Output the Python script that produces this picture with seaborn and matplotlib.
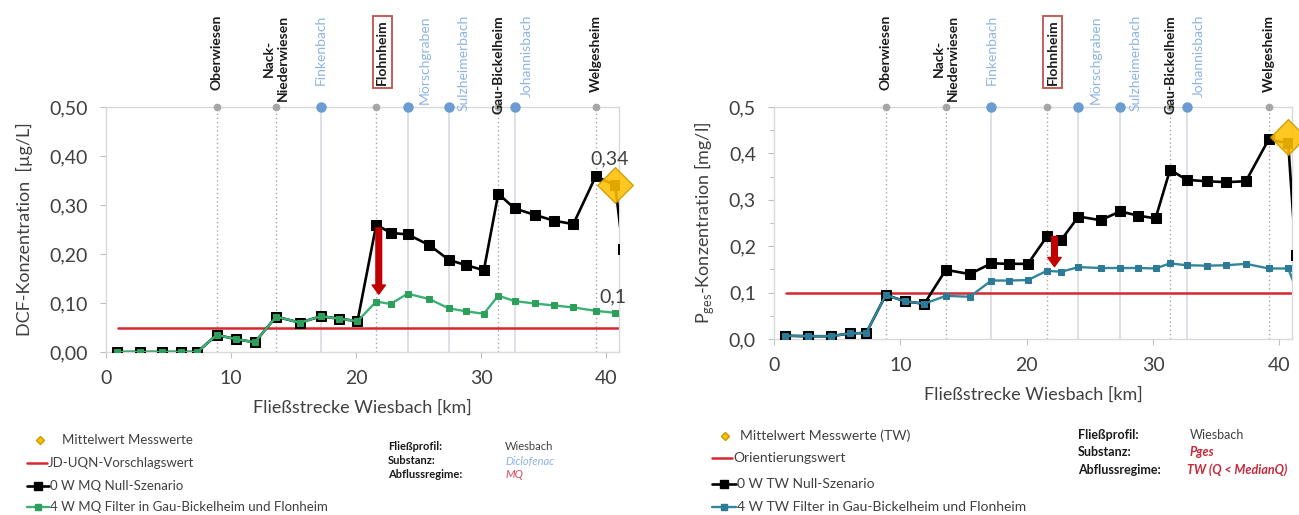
import seaborn as sns
import matplotlib.pyplot as plt
from matplotlib.lines import Line2D
from matplotlib import transforms

# River kilometre of each model node along the Wiesbach
km = [0.9, 2.7, 4.5, 6.0, 7.3, 8.85, 10.4, 11.9, 13.6, 15.5, 17.2, 18.6, 20.1,
      21.6, 22.75, 24.1, 25.85, 27.4, 28.8, 30.2, 31.35, 32.65, 34.25, 35.8,
      37.35, 39.15, 40.7, 41.3]

# Diclofenac, MQ  [µg/L]
dcf_null = [0.0, 0.0, 0.0, 0.0, 0.0, 0.035, 0.026, 0.02, 0.072, 0.06, 0.073, 0.068, 0.063,
            0.26, 0.243, 0.24, 0.218, 0.188, 0.177, 0.167, 0.323, 0.293, 0.28, 0.268,
            0.261, 0.359, 0.34, 0.21]
dcf_filter = [0.0, 0.0, 0.0, 0.0, 0.0, 0.035, 0.026, 0.02, 0.072, 0.06, 0.073, 0.068, 0.063,
              0.103, 0.098, 0.119, 0.108, 0.089, 0.083, 0.078, 0.115, 0.104, 0.099, 0.095,
              0.091, 0.084, 0.08, 0.076]

# Total phosphorus, TW  [mg/l]
p_null = [0.007, 0.006, 0.006, 0.012, 0.013, 0.095, 0.081, 0.076, 0.149, 0.14, 0.163, 0.162,
          0.162, 0.221, 0.214, 0.264, 0.256, 0.275, 0.266, 0.26, 0.365, 0.343, 0.34, 0.338,
          0.34, 0.43, 0.422, 0.18]
p_filter = [0.007, 0.006, 0.006, 0.012, 0.013, 0.095, 0.081, 0.076, 0.093, 0.091, 0.126, 0.126,
            0.127, 0.147, 0.145, 0.155, 0.153, 0.153, 0.153, 0.152, 0.163, 0.159, 0.158, 0.159,
            0.162, 0.152, 0.152, 0.11]

# Mean of measured values
dcf_mess_km, dcf_mess = [40.7], [0.34]
p_mess_km, p_mess = [40.7], [0.435]

# Limit / orientation values and their extent
jd_uqn = 0.05
orientierungswert = 0.1
limit_km = [0.95, 41.0]

# Reduction arrows at Flohnheim (km, from, to)
dcf_arrow = (21.8, 0.253, 0.118)
p_arrow = (22.2, 0.221, 0.156)

# Towns (Ort) and tributaries (Bach) along the river
stations = ["Oberwiesen", "Nack-\nNiederwiesen", "Finkenbach", "Flohnheim", "Mörschgraben",
            "Sulzheimerbach", "Gau-Bickelheim", "Johannisbach", "Welgesheim"]
station_km = [8.85, 13.6, 17.2, 21.6, 24.1, 27.4, 31.35, 32.65, 39.15]
station_kind = ["Ort", "Ort", "Bach", "Ort", "Bach", "Bach", "Ort", "Bach", "Ort"]
label_dx = [0, 0, 0, 6, 17, 15, 0, 12, 0]   # horizontal label nudge in pixels

x_ticks = [0, 10, 20, 30, 40]

sns.set_theme(style="white")
plt.rcParams['font.family'] = ['Lato', 'DejaVu Sans']

W, H = 1299, 515
fig = plt.figure(figsize=(W / 100, H / 100), dpi=100)
axL = fig.add_axes([106 / W, 1 - 352 / H, 513 / W, 245 / H])
axR = fig.add_axes([774 / W, 1 - 339 / H, 518 / W, 232 / H])

TXT = "#404040"
RED = "#D7282F"
GOLD = "#FFC000"
GREEN = "#3BB273"
GREEN_M = "#2E9E5B"
BLUE = "#31869B"
BLUE_M = "#2C7A96"
STREAM = "#8DB4E2"


def style_axes(ax, yticks, fmt, minor=None):
    ax.set_xlim(0, 41)
    ax.set_ylim(0, 0.5)
    ax.set_xticks(x_ticks)
    ax.set_yticks(yticks)
    ax.set_yticklabels([fmt.format(v).replace(".", ",") for v in yticks])
    if minor is not None:
        ax.set_yticks(minor, minor=True)
    for s in ax.spines.values():
        s.set_color("#D9D9D9")
        s.set_linewidth(1.0)
    ax.tick_params(axis="both", which="both", colors="#BFBFBF", labelcolor=TXT,
                   labelsize=14, length=4, width=0.8, pad=9, bottom=True, left=True)
    ax.tick_params(axis="y", which="minor", length=3)


def draw_stations(ax):
    trans = transforms.blended_transform_factory(ax.transData, fig.transFigure)
    for name, x, kind, dx in zip(stations, station_km, station_kind, label_dx):
        if kind == "Ort":
            ax.plot([x, x], [0, 0.5], color="#A6A6A6", lw=1.0, ls=(0, (1, 2)), zorder=1)
            ax.plot([x], [0.5], marker="o", ms=4.5, color="#A6A6A6", clip_on=False, zorder=3)
        else:
            ax.plot([x, x], [0, 0.5], color="#D6DCE4", lw=1.2, zorder=1)
            ax.plot([x], [0.5], marker="o", ms=6.5, color="#6A9BD1", clip_on=False, zorder=3)
        t = transforms.offset_copy(trans, fig=fig, x=dx, y=0, units="dots")
        kw = dict(rotation=90, ha="center", va="top", transform=t, fontsize=10,
                  multialignment="center")
        if kind == "Ort":
            kw.update(color="#1A1A1A", fontweight="bold")
        else:
            kw.update(color=STREAM)
        y = 1 - 15 / H
        if name == "Flohnheim":
            y = 1 - 19 / H
            kw["bbox"] = dict(boxstyle="square,pad=0.25", fc="white", ec="#C0504D", lw=1.3)
        ax.text(x, y, name, **kw)


def draw_panel(ax, null, filt, fcol, fmcol, mess_km, mess, limit, arrow):
    draw_stations(ax)
    sns.lineplot(x=limit_km, y=[limit, limit], ax=ax, color=RED, lw=1.8, zorder=2)
    sns.lineplot(x=km, y=null, ax=ax, sort=False, color="black", lw=1.9, marker="s",
                 markersize=7.5, markeredgecolor="black", markerfacecolor="black", zorder=4)
    sns.lineplot(x=km, y=filt, ax=ax, sort=False, color=fcol, lw=1.7, marker="s",
                 markersize=4.5, markeredgecolor=fmcol, markerfacecolor=fmcol, zorder=5)
    sns.scatterplot(x=mess_km, y=mess, ax=ax, marker="D", s=330, color=GOLD,
                    edgecolor="#C99A00", linewidth=1.0, alpha=0.88, zorder=6, clip_on=False)
    ax.annotate("", xy=(arrow[0], arrow[2]), xytext=(arrow[0], arrow[1]),
                arrowprops=dict(arrowstyle="simple,head_width=0.8,head_length=0.55,tail_width=0.34",
                                color="#C00000", shrinkA=0, shrinkB=0),
                zorder=7)


# --- left panel: Diclofenac ---
draw_panel(axL, dcf_null, dcf_filter, GREEN, GREEN_M, dcf_mess_km, dcf_mess, jd_uqn, dcf_arrow)
style_axes(axL, [0, 0.1, 0.2, 0.3, 0.4, 0.5], "{:.2f}")
axL.set_xlabel("Fließstrecke Wiesbach [km]", fontsize=13, color=TXT)
axL.set_ylabel("DCF-Konzentration  [µg/L]", fontsize=13, color=TXT)
axL.xaxis.set_label_coords(0.5, -0.195)
axL.yaxis.set_label_coords(-0.142, 0.5)
axL.annotate("{:.2f}".format(dcf_null[-2]).replace(".", ","), xy=(km[-2], dcf_null[-2]),
             xytext=(-6, 27), textcoords="offset pixels", ha="center", va="center",
             fontsize=14, color=TXT, zorder=8, annotation_clip=False)
axL.annotate("{:.1f}".format(dcf_filter[-2]).replace(".", ","), xy=(km[-2], dcf_filter[-2]),
             xytext=(-2, 16), textcoords="offset pixels", ha="center", va="center",
             fontsize=14, color=TXT, zorder=8, annotation_clip=False)

# --- right panel: total phosphorus ---
draw_panel(axR, p_null, p_filter, BLUE, BLUE_M, p_mess_km, p_mess, orientierungswert, p_arrow)
style_axes(axR, [0, 0.1, 0.2, 0.3, 0.4, 0.5], "{:.1f}",
           minor=[0.05, 0.15, 0.25, 0.35, 0.45])
axR.set_xlabel("Fließstrecke Wiesbach [km]", fontsize=13, color=TXT)
axR.set_ylabel(r"P$_\mathregular{ges}$-Konzentration [mg/l]", fontsize=13, color=TXT)
axR.xaxis.set_label_coords(0.5, -0.205)
axR.yaxis.set_label_coords(-0.112, 0.5)


# --- legends drawn in figure pixel coordinates ---
def fx(x):
    return x / W


def fy(y):
    return 1 - y / H


def leg_marker(x, y, color, ec, marker, ms):
    fig.add_artist(Line2D([fx(x)], [fy(y)], marker=marker, ms=ms, color=color,
                          markeredgecolor=ec, lw=0, transform=fig.transFigure))


def leg_line(x0, x1, y, color, lw, marker=None, ms=0, mfc=None, mec=None):
    fig.add_artist(Line2D([fx(x0), fx(x1)], [fy(y), fy(y)], color=color, lw=lw,
                          transform=fig.transFigure))
    if marker:
        leg_marker((x0 + x1) / 2, y, mfc, mec, marker, ms)


def leg_text(x, y, s, fs, **kw):
    kw.setdefault("color", TXT)
    fig.text(fx(x), fy(y), s, fontsize=fs, va="center", ha="left", **kw)


# left legend
leg_marker(40, 440, GOLD, "#C99A00", "D", 4.5)
leg_text(62, 440, "Mittelwert Messwerte", 9.5)
leg_line(27, 47, 463, RED, 1.8)
leg_text(48, 463, "JD-UQN-Vorschlagswert", 9.5)
leg_line(27, 49, 486, "black", 1.9, "s", 5.5, "black", "black")
leg_text(50, 486, "0 W MQ Null-Szenario", 9.5)
leg_line(27, 49, 507, GREEN, 1.7, "s", 4, GREEN_M, GREEN_M)
leg_text(50, 507, "4 W MQ Filter in Gau-Bickelheim und Flonheim", 9.5)

leg_text(388, 447, "Fließprofil:", 8, fontweight="bold", color="#1A1A1A")
leg_text(388, 461, "Substanz:", 8, fontweight="bold", color="#1A1A1A")
leg_text(388, 475, "Abflussregime:", 8, fontweight="bold", color="#1A1A1A")
leg_text(505, 447, "Wiesbach", 8)
leg_text(505, 461, "Diclofenac", 8, style="italic", color=STREAM)
leg_text(505, 475, "MQ", 8, style="italic", color="#D9475A")

# right legend
leg_marker(725, 436, GOLD, "#C99A00", "D", 4.5)
leg_text(740, 436, "Mittelwert Messwerte (TW)", 10)
leg_line(712, 732, 458, RED, 1.8)
leg_text(733, 458, "Orientierungswert", 10)
leg_line(712, 736, 484, "black", 1.9, "s", 5.5, "black", "black")
leg_text(737, 484, "0 W TW Null-Szenario", 10)
leg_line(712, 736, 507, BLUE, 1.7, "s", 4, BLUE_M, BLUE_M)
leg_text(737, 507, "4 W TW Filter in Gau-Bickelheim und Flonheim", 10)

leg_text(1078, 435, "Fließprofil:", 9, fontweight="bold", color="#1A1A1A")
leg_text(1078, 452, "Substanz:", 9, fontweight="bold", color="#1A1A1A")
leg_text(1078, 470, "Abflussregime:", 9, fontweight="bold", color="#1A1A1A")
leg_text(1190, 435, "Wiesbach", 9)
leg_text(1190, 452, "Pges", 9, style="italic", fontweight="bold", color="#C8283A")
leg_text(1187, 470, "TW (Q < MedianQ)", 9, style="italic", fontweight="bold", color="#C8283A")

fig.savefig("out.png", dpi=100)
